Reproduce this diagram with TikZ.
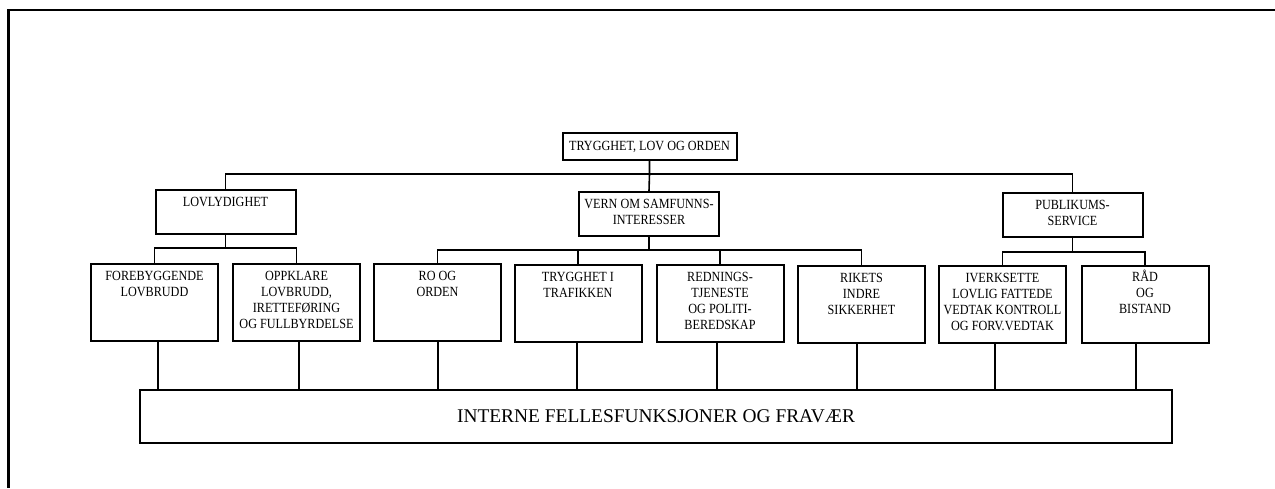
\documentclass[tikz,border=0pt]{standalone}
\usepackage{fontspec}
\setmainfont{Liberation Serif}[FakeStretch=0.87]
\newfontfamily\widefont{Liberation Serif}
\usetikzlibrary{positioning}

\begin{document}
\begin{tikzpicture}[x=0.5pt, y=-0.5pt,
    box/.style={shape=rectangle, draw, line width=1pt, inner sep=0},
    head/.style={box, minimum width=70pt, minimum height=22pt},
    leaf/.style={box, minimum width=63.5pt, minimum height=38.5pt},
    txt/.style={inner sep=0, align=center, font=\fontsize{7}{8}\selectfont},
    con/.style={line width=0.8pt}]
    \useasboundingbox (0,0) rectangle (1275,488);
    \draw[line width=1.3pt] (1275,10) -- (8.5,10) -- (8.5,488);
    % top level
    \node[box, minimum width=87pt, minimum height=13.5pt, font=\fontsize{7}{8}\selectfont] (top) at (649.5,146.5) {TRYGGHET, LOV OG ORDEN};
    % second level
    \node[head] (lovlyd) at (225.5,212) {};
    \node[txt, below=3.7pt] (lovlyd-t) at (lovlyd.north) {LOVLYDIGHET};
    \node[head] (vern) at (649,214) {};
    \node[txt, below=4pt] (vern-t) at (vern.north) {VERN OM SAMFUNNS-\\INTERESSER};
    \node[head] (publik) at (1072.5,215) {};
    \node[txt, below=4pt] (publik-t) at (publik.north) {PUBLIKUMS-\\SERVICE};
    % third level
    \node[leaf] (forebygg) at (154.5,302.5) {};
    \node[txt, below=4.1pt] (forebygg-t) at (forebygg.north) {FOREBYGGENDE\\LOVBRUDD};
    \node[leaf] (oppklare) at (296.5,302.5) {};
    \node[txt, below=4.1pt] (oppklare-t) at (oppklare.north) {OPPKLARE\\LOVBRUDD,\\IRETTEFØRING\\OG FULLBYRDELSE};
    \node[leaf] (roorden) at (437.5,302.5) {};
    \node[txt, below=4.1pt] (roorden-t) at (roorden.north) {RO OG\\ORDEN};
    \node[leaf] (trafikk) at (578,303.5) {};
    \node[txt, below=4.1pt] (trafikk-t) at (trafikk.north) {TRYGGHET I\\TRAFIKKEN};
    \node[leaf] (redning) at (720,303.5) {};
    \node[txt, below=4.1pt] (redning-t) at (redning.north) {REDNINGS-\\TJENESTE\\OG POLITI-\\BEREDSKAP};
    \node[leaf] (rikets) at (861.5,304) {};
    \node[txt, below=4.1pt] (rikets-t) at (rikets.north) {RIKETS\\INDRE\\SIKKERHET};
    \node[leaf] (iverk) at (1002.5,304) {};
    \node[txt, below=4.1pt] (iverk-t) at (iverk.north) {IVERKSETTE\\LOVLIG FATTEDE\\VEDTAK KONTROLL\\OG FORV.VEDTAK};
    \node[leaf] (raad) at (1145,304) {};
    \node[txt, below=2.5pt] (raad-t) at (raad.north) {RÅD\\OG\\BISTAND};
    % bottom
    \node[box, minimum width=516pt, minimum height=26.5pt, font=\widefont\fontsize{9.7}{12}\selectfont] (felles) at (656,416.5) {INTERNE FELLESFUNKSJONER OG FRAVÆR};
    % buses
    \coordinate (bus) at (649.5,174);
    \coordinate (lbus) at (225.5,248);
    \coordinate (mbus) at (649,250);
    \coordinate (rbus) at (1072.5,252);
    \draw[con] (top.south) -- (bus) -- (vern.north);
    \draw[con] (lovlyd.north) |- (bus) -| (publik.north);
    \draw[con] (lovlyd.south) -- (lbus);
    \draw[con] (forebygg.north) |- (lbus) -| (oppklare.north);
    \draw[con] (vern.south) -- (mbus);
    \draw[con] (roorden.north) |- (mbus) -| (rikets.north);
    \draw[con] (trafikk.north) -- (trafikk.north |- mbus);
    \draw[con] (redning.north) -- (redning.north |- mbus);
    \draw[con] (publik.south) -- (rbus);
    \draw[con] (iverk.north) |- (rbus) -| (raad.north);
    % down to the common box
    \foreach \n/\s in {forebygg/1.75, oppklare/1.25, roorden/0, trafikk/-0.5, redning/-1.5, rikets/-2.25, iverk/-3.75, raad/-4.5}
        \draw[line width=1pt] ([xshift=\s pt]\n.south) -- ([xshift=\s pt]\n.south |- felles.north);
\end{tikzpicture}
\end{document}
